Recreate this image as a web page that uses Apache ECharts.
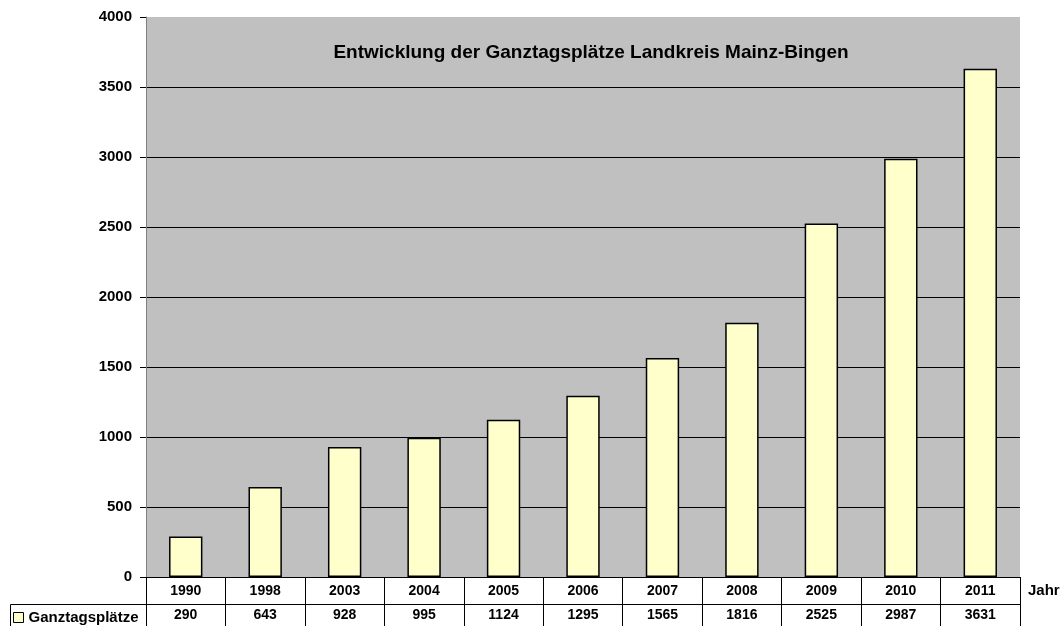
<!DOCTYPE html>
<html>
<head>
<meta charset="utf-8">
<script src="https://cdn.jsdelivr.net/npm/echarts@6/dist/echarts.min.js"></script>
<style>
  html, body { margin: 0; padding: 0; background: #fff; }
  #chart { width: 1063px; height: 626px; }
</style>
</head>
<body>
<div id="chart"></div>
<script>
// Jahre und Ganztagsplätze
var years = ["1990", "1998", "2003", "2004", "2005", "2006", "2007", "2008", "2009", "2010", "2011"];
var places = [290, 643, 928, 995, 1124, 1295, 1565, 1816, 2525, 2987, 3631];
var seriesName = "Ganztagsplätze";
var titleText = "Entwicklung der Ganztagsplätze Landkreis Mainz-Bingen";

var font = "Liberation Sans, Arial, sans-serif";
var chart = echarts.init(document.getElementById("chart"));

var option = {
  animation: false,
  textStyle: { fontFamily: font },
  title: {
    text: titleText,
    left: 586,
    textAlign: "center",
    top: 38,
    textStyle: { fontSize: 19, fontWeight: "bold", color: "#000", fontFamily: font }
  },
  legend: {
    data: [seriesName],
    left: 13,
    top: 610,
    padding: 0,
    icon: "rect",
    itemWidth: 10,
    itemHeight: 10,
    itemStyle: { borderColor: "#000", borderWidth: 1 },
    textStyle: { fontSize: 15, fontWeight: "bold", color: "#000", fontFamily: font }
  },
  grid: {
    left: 146,
    right: 43,
    top: 17,
    bottom: 49,
    show: true,
    backgroundColor: "#c0c0c0",
    borderWidth: 0
  },
  xAxis: [
    {
      type: "category",
      data: years,
      name: "Jahr",
      nameLocation: "end",
      nameGap: 8,
      nameTextStyle: { fontSize: 15, fontWeight: "bold", color: "#000", verticalAlign: "top", padding: [6, 0, 0, 0] },
      axisLine: { lineStyle: { color: "#000", width: 1 } },
      axisTick: { show: true, alignWithLabel: false, inside: false, length: 49, lineStyle: { color: "#000" } },
      axisLabel: { fontSize: 14, fontWeight: "bold", color: "#000", margin: 7 },
      splitLine: { show: false }
    },
    {
      type: "category",
      data: places.map(String),
      position: "bottom",
      offset: 27,
      axisLine: { show: true, lineStyle: { color: "#000", width: 1 } },
      axisTick: { show: false },
      axisLabel: { fontSize: 14, fontWeight: "bold", color: "#000", margin: 4 },
      splitLine: { show: false }
    }
  ],
  yAxis: {
    type: "value",
    min: 0,
    max: 4000,
    interval: 500,
    axisLine: { show: true, lineStyle: { color: "#808080" } },
    axisTick: { show: true, length: 6, lineStyle: { color: "#000" } },
    axisLabel: {
      fontSize: 15, fontWeight: "bold", color: "#000", margin: 14,
      formatter: function (v) { return String(v); }
    },
    splitLine: { show: true, showMaxLine: false, lineStyle: { color: "#000", width: 1 } }
  },
  series: [
    {
      name: seriesName,
      type: "bar",
      data: places,
      barWidth: "42%",
      itemStyle: { color: "#ffffcc", borderColor: "#000", borderWidth: 1.5 }
    }
  ],
  graphic: [
    {
      type: "polyline",
      shape: { points: [[10.5, 626], [10.5, 604.5], [146, 604.5]] },
      style: { stroke: "#000", lineWidth: 1, fill: null }
    }
  ]
};

chart.setOption(option);
</script>
</body>
</html>
